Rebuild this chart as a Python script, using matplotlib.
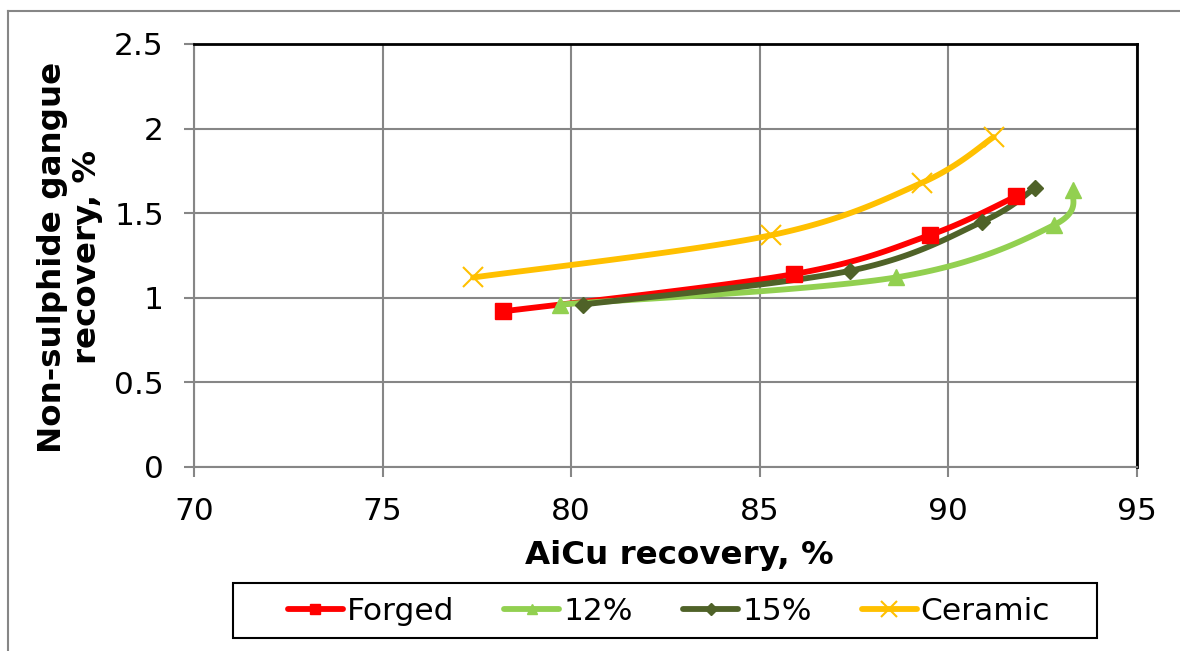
import numpy as np
import matplotlib
matplotlib.use('Agg')
import matplotlib.pyplot as plt
from matplotlib.patches import Rectangle
from matplotlib.lines import Line2D

# data
forged_x = [78.2, 85.9, 89.5, 91.8]
forged_y = [0.92, 1.14, 1.37, 1.60]
p12_x = [79.7, 88.6, 92.8, 93.3]
p12_y = [0.96, 1.12, 1.43, 1.64]
p15_x = [80.3, 87.4, 90.9, 92.3]
p15_y = [0.96, 1.16, 1.45, 1.65]
ceramic_x = [77.4, 85.3, 89.3, 91.2]
ceramic_y = [1.12, 1.37, 1.68, 1.95]

series_names = ['Forged', '12%', '15%', 'Ceramic']
x_ticks = [70, 75, 80, 85, 90, 95]
y_ticks = [0, 0.5, 1, 1.5, 2, 2.5]
y_tick_labels = ['0', '0.5', '1', '1.5', '2', '2.5']

GRAY = '#868686'
FS = 22.5
FS_LAB = 23.4
W, H = 1180, 651

plt.rcParams['font.family'] = ['DejaVu Sans']

fig = plt.figure(figsize=(W / 100, H / 100), dpi=100)
ax = fig.add_axes([194 / W, 1 - 467 / H, 943 / W, 423 / H])
ax.set_xlim(70, 95)
ax.set_ylim(0, 2.5)


def smooth(xs, ys, n=40):
    # excel-like smoothed line: catmull-rom bezier computed in screen space
    pts = ax.transData.transform(np.column_stack([xs, ys]))
    p = np.vstack([pts[0], pts, pts[-1]])
    out = []
    for i in range(1, len(p) - 2):
        p0, p1, p2, p3 = p[i - 1], p[i], p[i + 1], p[i + 2]
        c1 = p1 + (p2 - p0) / 6
        c2 = p2 - (p3 - p1) / 6
        t = np.linspace(0, 1, n)[:, None]
        seg = ((1 - t) ** 3) * p1 + 3 * ((1 - t) ** 2) * t * c1 + 3 * (1 - t) * t ** 2 * c2 + t ** 3 * p2
        out.append(seg)
    curve = ax.transData.inverted().transform(np.vstack(out))
    return curve[:, 0], curve[:, 1]


styles = [
    (forged_x, forged_y, '#FF0000', 's', 11, 1, 7),
    (p12_x, p12_y, '#92D050', '^', 12, 1, 7),
    (p15_x, p15_y, '#4F6228', 'D', 8.5, 1, 6),
    (ceramic_x, ceramic_y, '#FFC000', 'x', 14, 1.5, 11),
]

for (xs, ys, col, mk, ms, mew, lms), name in zip(styles, series_names):
    sx, sy = smooth(xs, ys)
    ax.plot(sx, sy, color=col, lw=4.2, solid_capstyle='round', zorder=3)
    ax.plot(xs, ys, ls='none', marker=mk, ms=ms, color=col,
            markeredgewidth=mew, zorder=4)
    ax.plot([], [], color=col, lw=4.2, solid_capstyle='round', marker=mk, ms=lms,
            markeredgewidth=mew, label=name)

ax.set_xticks(x_ticks)
ax.set_yticks(y_ticks)
ax.set_yticklabels(y_tick_labels)
ax.grid(True, color=GRAY, lw=1.5)
ax.set_axisbelow(True)
ax.tick_params(axis='both', labelsize=FS, color=GRAY, width=1.5, length=7.2,
               direction='out', pad=14.5)
for s in ['left', 'bottom']:
    ax.spines[s].set_color(GRAY)
    ax.spines[s].set_linewidth(1.5)
for s in ['top', 'right']:
    ax.spines[s].set_color('#000000')
    ax.spines[s].set_linewidth(2)

ax.set_xlabel('AiCu recovery, %', fontsize=FS_LAB, fontweight='bold')
ax.xaxis.set_label_coords((679 - 194) / 943, (467 - 540) / 423)
ax.set_ylabel('Non-sulphide gangue\nrecovery, %', fontsize=FS_LAB, fontweight='bold',
              linespacing=1.15)
ax.yaxis.set_label_coords((103 - 194) / 943, (467 - 257) / 423)

leg = fig.legend(loc='center', bbox_to_anchor=(669 / W, 1 - 611 / H), ncol=4,
                 fontsize=FS, frameon=False,
                 handlelength=1.76, handletextpad=0.13, columnspacing=1.6,
                 borderpad=0, borderaxespad=0)

# legend box
fig.add_artist(Rectangle((233 / W, 1 - 638 / H), (1097 - 233) / W, 55 / H,
                         transform=fig.transFigure, fill=False, edgecolor='black', lw=1.5))

# outer chart border (top and left edges visible)
fig.add_artist(Line2D([8 / W, 1.0], [1 - 11 / H, 1 - 11 / H], transform=fig.transFigure,
                      color=GRAY, lw=1.5))
fig.add_artist(Line2D([8 / W, 8 / W], [0, 1 - 11 / H], transform=fig.transFigure,
                      color=GRAY, lw=1.5))

fig.savefig('out.png', dpi=100)
